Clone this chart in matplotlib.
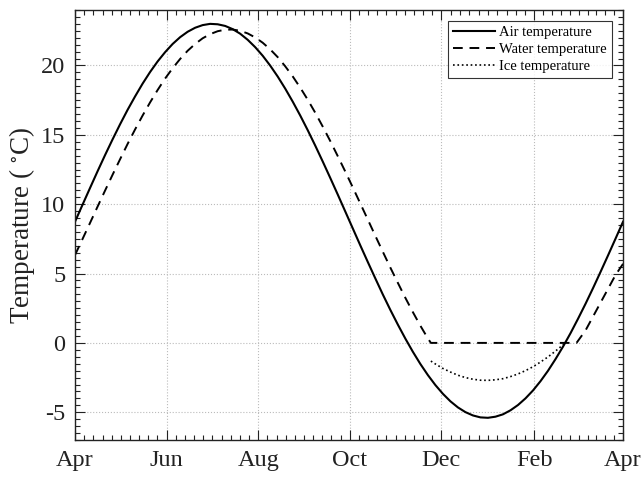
import matplotlib
matplotlib.use("Agg")
import matplotlib.pyplot as plt
from matplotlib.ticker import AutoMinorLocator

# days counted from 1 April, values every 5 days
air_days = list(range(0, 361, 5)) + [365]
air_temp = [8.74, 9.96, 11.17, 12.37, 13.54, 14.67, 15.76, 16.80, 17.77, 18.69,
            19.53, 20.29, 20.96, 21.55, 22.04, 22.43, 22.72, 22.91, 23.00, 22.97,
            22.85, 22.62, 22.29, 21.85, 21.32, 20.70, 19.99, 19.20, 18.33, 17.39,
            16.39, 15.33, 14.22, 13.07, 11.89, 10.69, 9.47, 8.25, 7.03, 5.83,
            4.65, 3.49, 2.38, 1.32, 0.31, -0.64, -1.52, -2.32, -3.04, -3.67,
            -4.21, -4.65, -4.99, -5.23, -5.37, -5.40, -5.32, -5.15, -4.86, -4.48,
            -4.00, -3.43, -2.76, -2.01, -1.17, -0.27, 0.70, 1.74, 2.82, 3.95,
            5.12, 6.31, 7.52, 8.74]

water_days = list(range(0, 236, 5)) + [237, 334, 340, 345, 350, 355, 360, 365]
water_temp = [6.34, 7.49, 8.65, 9.82, 10.98, 12.12, 13.24, 14.34, 15.39, 16.39,
              17.34, 18.23, 19.06, 19.80, 20.47, 21.06, 21.55, 21.96, 22.26, 22.47,
              22.58, 22.59, 22.50, 22.31, 22.02, 21.64, 21.16, 20.60, 19.94, 19.21,
              18.40, 17.53, 16.59, 15.59, 14.55, 13.46, 12.35, 11.21, 10.05, 8.89,
              7.72, 6.57, 5.43, 4.33, 3.25, 2.22, 1.24, 0.32, 0.0,
              0.0, 0.9, 1.9, 2.9, 3.9, 4.9, 5.7]

ice_days = [237, 240, 245, 250, 255, 260, 265, 270, 275, 280, 285, 290, 295,
            300, 305, 310, 315, 320, 326]
ice_temp = [-1.31, -1.52, -1.84, -2.10, -2.33, -2.50, -2.62, -2.69, -2.70, -2.66,
            -2.58, -2.43, -2.24, -2.00, -1.72, -1.38, -1.01, -0.59, -0.05]

tick_days = [0, 61, 122, 183, 244, 306, 365]
tick_labels = ['Apr', 'Jun', 'Aug', 'Oct', 'Dec', 'Feb', 'Apr']

plt.rcParams['font.family'] = ['Liberation Serif', 'DejaVu Serif']
plt.rcParams['mathtext.fontset'] = 'stix'
plt.rcParams['axes.unicode_minus'] = False

fig = plt.figure(figsize=(6.44, 4.78), dpi=100)
ax = fig.add_axes([0.1165, 0.0795, 0.851, 0.8996])

ax.plot(air_days, air_temp, '-', color='black', lw=1.5, label='Air temperature')
ax.plot(water_days, water_temp, '--', color='black', lw=1.4, dashes=(5, 3.5),
        label='Water temperature')
ax.plot(ice_days, ice_temp, ':', color='black', lw=1.2, label='Ice temperature')

ax.set_xlim(0, 365)
ax.set_ylim(-7, 24)
ax.set_xticks(tick_days)
ax.set_xticklabels(tick_labels)
ax.set_yticks([-5, 0, 5, 10, 15, 20])
ax.yaxis.set_minor_locator(AutoMinorLocator(10))
ax.set_xticks([d for i in range(6) for d in
               [tick_days[i] + (tick_days[i+1] - tick_days[i]) * k / 10 for k in range(1, 10)]],
              minor=True)

ax.tick_params(which='both', direction='in', top=True, right=True, colors='#222222',
               labelsize=17.5, width=0.8)
ax.tick_params(which='major', length=7, pad=7)
ax.tick_params(which='minor', length=3.5)
ax.grid(True, which='major', linestyle=':', color='#bbbbbb', lw=0.8)
for s in ax.spines.values():
    s.set_color('#222222')
    s.set_linewidth(1.0)

ax.set_ylabel('Temperature ( $^{\\circ}$C)', fontsize=19.5, color='#222222', labelpad=3)

leg = ax.legend(loc='upper right', fontsize=10.5, handlelength=2.9, frameon=True,
                fancybox=False, edgecolor='black', borderaxespad=0.75,
                labelspacing=0.25, handletextpad=0.3, borderpad=0.35)
leg.get_frame().set_linewidth(0.8)

fig.savefig('out.png', dpi=100)
